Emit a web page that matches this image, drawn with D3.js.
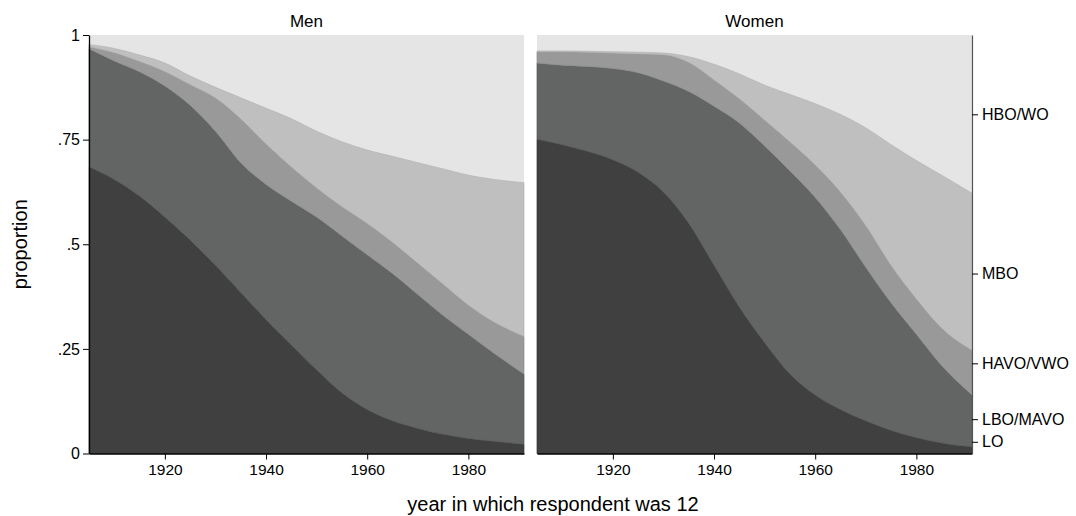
<!DOCTYPE html>
<html>
<head>
<meta charset="utf-8">
<script src="https://cdn.jsdelivr.net/npm/d3@7"></script>
<style>
  html, body { margin: 0; padding: 0; background: #fff; }
  svg { display: block; font-family: "Liberation Sans", Arial, Helvetica, sans-serif; }
</style>
</head>
<body>
<svg id="chart" width="1076" height="516"></svg>
<script>
// ---- data ----
const years = [1905,1910,1915,1920,1925,1930,1935,1940,1945,1950,1955,1960,1965,1970,1975,1980,1985,1991];
const categories = ["LO","LBO/MAVO","HAVO/VWO","MBO","HBO/WO"];
const panels = ["Men","Women"];

// Men: share of each education level
const menLO   = [.685,.655,.615,.565,.510,.450,.385,.320,.260,.200,.145,.105,.078,.060,.046,.036,.029,.022];
const menLBO  = [.282,.283,.297,.313,.322,.320,.310,.323,.343,.365,.375,.370,.352,.320,.284,.249,.211,.168];
const menHAVO = [.005,.020,.025,.035,.050,.080,.105,.097,.082,.070,.070,.075,.075,.075,.075,.070,.075,.090];
const menMBO  = [.005,.010,.015,.020,.020,.025,.050,.085,.115,.135,.155,.175,.205,.240,.275,.310,.340,.367];
const menHBO  = [.023,.032,.048,.067,.098,.125,.150,.175,.200,.230,.255,.275,.290,.305,.320,.335,.345,.353];

// Women
const womenLO   = [.751,.738,.722,.702,.672,.625,.550,.450,.350,.265,.190,.140,.105,.078,.055,.038,.025,.016];
const womenLBO  = [.182,.190,.203,.218,.238,.265,.315,.380,.440,.470,.485,.472,.430,.367,.305,.247,.185,.124];
const womenHAVO = [.027,.032,.034,.037,.045,.063,.070,.063,.058,.062,.070,.078,.090,.100,.090,.085,.090,.107];
const womenMBO  = [.002,.002,.002,.003,.004,.004,.013,.037,.059,.083,.113,.146,.185,.233,.288,.330,.365,.375];
const womenHBO  = [.038,.039,.040,.040,.041,.043,.052,.070,.093,.120,.142,.164,.190,.222,.262,.300,.335,.378];

const xTicks = [1920,1940,1960,1980];
const yTicks = [0,.25,.5,.75,1];
const yTickLabels = ["0",".25",".5",".75","1"];
// right-hand category labels (positions in proportion units)
const rightLabelValues = [.028,.082,.2155,.43,.8105];

const colors = ["#404040","#636564","#999999","#bfbfbf","#e5e5e5"];
const strokes = ["#333333","#555756","#8c8c8c","#b3b3b3","#e5e5e5"];

// ---- build tables ----
function table(series) {
  return years.map((yr, i) => {
    const row = {year: yr};
    categories.forEach((c, k) => row[c] = series[k][i]);
    return row;
  });
}
const tables = {
  Men: table([menLO, menLBO, menHAVO, menMBO, menHBO]),
  Women: table([womenLO, womenLBO, womenHAVO, womenMBO, womenHBO])
};

// ---- layout ----
const svg = d3.select("#chart");
const plotTop = 35, plotBottom = 453.5;
const panelX = {Men: [89, 524], Women: [537, 972]};
const y = d3.scaleLinear().domain([0,1]).range([plotBottom, plotTop]);
const stack = d3.stack().keys(categories);

panels.forEach(p => {
  const x = d3.scaleLinear().domain([1905,1991]).range(panelX[p]);
  const g = svg.append("g");
  const series = stack(tables[p]);
  const area = d3.area()
    .x(d => x(d.data.year))
    .y0(d => y(Math.min(1, d[0])))
    .y1(d => y(Math.min(1, d[1])))
    .curve(d3.curveMonotoneX);
  // top category fills everything up to 1
  g.append("rect")
    .attr("x", panelX[p][0]).attr("y", plotTop)
    .attr("width", panelX[p][1]-panelX[p][0]).attr("height", plotBottom-plotTop)
    .attr("fill", colors[4]);
  series.forEach((s, k) => {
    if (k === categories.length - 1) return;
    g.append("path")
      .datum(s)
      .attr("d", area)
      .attr("fill", colors[k])
      .attr("stroke", strokes[k])
      .attr("stroke-width", 0.7);
  });

  // x axis
  const xa = g.append("g").attr("transform", `translate(0,${plotBottom})`)
    .call(d3.axisBottom(x).tickValues(xTicks).tickFormat(d3.format("d")).tickSize(6).tickSizeOuter(0));
  xa.select(".domain").attr("stroke", "#000").attr("stroke-width", 1.3);
  xa.selectAll(".tick line").attr("stroke", "#000");
  xa.selectAll("text").attr("font-size", 15.5).attr("fill", "#000").attr("dy", "0.85em").attr("y", 8);

  // panel title
  svg.append("text")
    .attr("x", (panelX[p][0] + panelX[p][1]) / 2).attr("y", 27)
    .attr("text-anchor", "middle").attr("font-size", 17).attr("fill", "#000")
    .text(p);

  if (p === "Men") {
    const ya = g.append("g").attr("transform", `translate(${panelX[p][0]},0)`)
      .call(d3.axisLeft(y).tickValues(yTicks).tickFormat((d, i) => yTickLabels[i]).tickSize(6).tickSizeOuter(0));
    ya.select(".domain").attr("stroke", "#000").attr("stroke-width", 1.3);
    ya.selectAll(".tick line").attr("stroke", "#000");
    ya.selectAll("text").attr("font-size", 16).attr("fill", "#000").attr("x", -9);
  } else {
    const ra = g.append("g").attr("transform", `translate(${panelX[p][1]},0)`)
      .call(d3.axisRight(y).tickValues(rightLabelValues)
        .tickFormat((d, i) => categories[i]).tickSize(6).tickSizeOuter(0));
    ra.select(".domain").attr("stroke", "#555").attr("stroke-width", 1.2);
    ra.selectAll(".tick line").attr("stroke", "#000");
    ra.selectAll("text").attr("font-size", 16).attr("fill", "#000").attr("x", 10);
  }
});

// axis titles
svg.append("text")
  .attr("transform", `translate(27,${(plotTop+plotBottom)/2}) rotate(-90)`)
  .attr("text-anchor", "middle").attr("font-size", 20).attr("fill", "#000")
  .text("proportion");
svg.append("text")
  .attr("x", 553).attr("y", 511)
  .attr("text-anchor", "middle").attr("font-size", 20).attr("fill", "#000")
  .text("year in which respondent was 12");
</script>
</body>
</html>
